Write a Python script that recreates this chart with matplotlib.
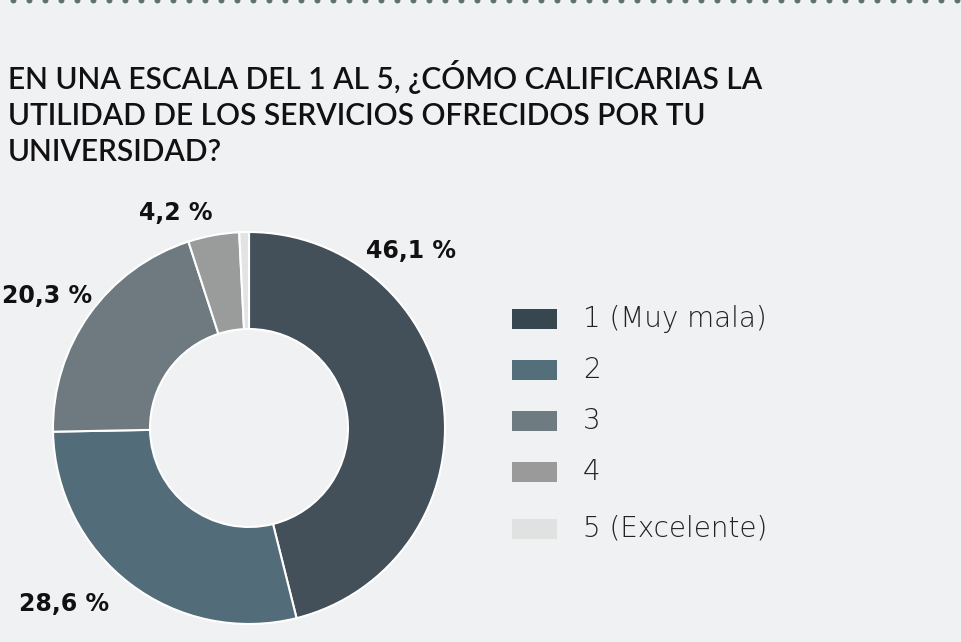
import matplotlib
matplotlib.use("Agg")
import matplotlib.pyplot as plt
from matplotlib.patches import Rectangle

categories = ["1 (Muy mala)", "2", "3", "4", "5 (Excelente)"]
values = [46.1, 28.6, 20.3, 4.2, 0.8]
value_labels = ["46,1 %", "28,6 %", "20,3 %", "4,2 %"]
colors = ["#434f59", "#536c7a", "#6e7a80", "#9a9b9b", "#e2e4e4"]
legend_colors = ["#37474f", "#546e7a", "#6e7b80", "#999a99", "#e0e2e1"]
title = "EN UNA ESCALA DEL 1 AL 5, ¿CÓMO CALIFICARIAS LA\nUTILIDAD DE LOS SERVICIOS OFRECIDOS POR TU\nUNIVERSIDAD?"

BG = "#f0f1f3"
W, H = 961, 642
fig = plt.figure(figsize=(W / 100, H / 100), dpi=100, facecolor=BG)

# dotted top border
dax = fig.add_axes([0, 0, 1, 1], facecolor="none")
dax.set_xlim(0, W); dax.set_ylim(H, 0); dax.axis("off")
xs = list(range(13, W, 16))
dax.scatter(xs, [-0.5] * len(xs), s=18, color="#5f6f76", clip_on=True, zorder=5, linewidths=0)

# title
fig.text(8 / W, 1 - 60 / H, title, ha="left", va="top", fontsize=21.5,
         family="Lato", fontweight="semibold", color="#111111", linespacing=1.34)

# donut
cx, cy, r = 249, 428, 196
ax = fig.add_axes([(cx - r) / W, (H - cy - r) / H, 2 * r / W, 2 * r / H])
ax.set_facecolor("none")
wedges, _ = ax.pie(values, colors=colors, startangle=90, counterclock=False,
                   radius=1, wedgeprops=dict(width=0.495, edgecolor="white", linewidth=1.5))
ax.set_xlim(-1, 1); ax.set_ylim(-1, 1); ax.set_aspect("equal"); ax.axis("off")

# value labels
label_pos = [(411, 251), (64, 604), (47, 296), (176, 213)]
for (lx, ly), t in zip(label_pos, value_labels):
    fig.text(lx / W, 1 - ly / H, t, ha="center", va="center", fontsize=17,
             fontweight="bold", family="DejaVu Sans", color="#111111")

# legend
leg_y = [319, 370, 421, 472, 529]
for y, c, name in zip(leg_y, legend_colors, categories):
    fig.patches.append(Rectangle(((512) / W, 1 - (y + 10) / H), 45 / W, 20 / H,
                                 transform=fig.transFigure, facecolor=c, edgecolor="none"))
    fig.text(583 / W, 1 - y / H, name, ha="left", va="center", fontsize=20,
             family="DejaVu Sans", fontweight=200, color="#222222")

fig.savefig("out.png", dpi=100, facecolor=BG)
